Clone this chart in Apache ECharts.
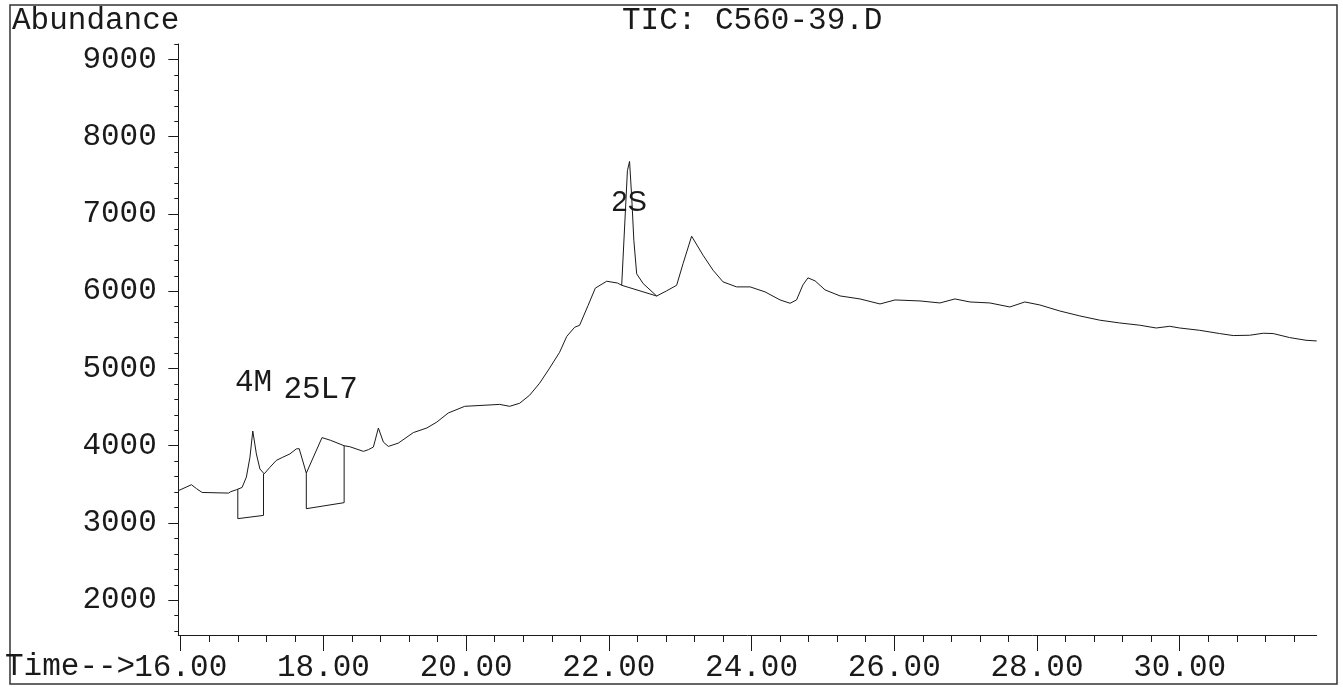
<!DOCTYPE html>
<html>
<head>
<meta charset="utf-8">
<script src="https://cdn.jsdelivr.net/npm/echarts@6/dist/echarts.min.js"></script>
<style>
  html, body { margin: 0; padding: 0; background: #fff; }
  #tic { width: 1343px; height: 687px; }
</style>
</head>
<body>
<div id="tic"></div>
<script>
// retention time (min) and abundance of the TIC trace
var times = [
  15.97, 16.15, 16.22, 16.30, 16.67, 16.70, 16.78, 16.86, 16.92, 16.97,
  17.01, 17.06, 17.11, 17.17, 17.25, 17.34, 17.43, 17.53, 17.62, 17.66,
  17.76, 17.98, 18.10, 18.29, 18.37, 18.56, 18.63, 18.70, 18.77, 18.84,
  18.91, 19.05, 19.26, 19.45, 19.59, 19.75, 19.98, 20.47, 20.61, 20.75,
  20.89, 21.03, 21.17, 21.31, 21.41, 21.52, 21.59, 21.71, 21.81, 21.97,
  22.12, 22.18, 22.26, 22.29, 22.32, 22.35, 22.39, 22.48, 22.67, 22.81,
  22.95, 23.04, 23.16, 23.32, 23.46, 23.60, 23.79, 23.98, 24.19, 24.40,
  24.54, 24.63, 24.72, 24.79, 24.89, 25.03, 25.24, 25.52, 25.80, 26.01,
  26.36, 26.64, 26.85, 27.06, 27.34, 27.62, 27.83, 28.04, 28.32, 28.60,
  28.88, 29.16, 29.44, 29.67, 29.86, 30.00, 30.28, 30.56, 30.75, 30.98,
  31.17, 31.31, 31.54, 31.77, 31.92
];
var abundance = [
  3420, 3495, 3445, 3395, 3387, 3405, 3430, 3460, 3594, 3850,
  4190, 3894, 3699, 3636, 3721, 3810, 3851, 3894, 3959, 3962,
  3645, 4105, 4070, 4000, 3987, 3927, 3949, 3983, 4229, 4047,
  3991, 4034, 4170, 4230, 4307, 4424, 4510, 4535, 4510, 4550,
  4654, 4810, 5005, 5210, 5415, 5533, 5559, 5818, 6040, 6129,
  6106, 6077, 7560, 7680, 7221, 6660, 6225, 6100, 5938, 6005,
  6077, 6358, 6712, 6466, 6272, 6121, 6056, 6056, 5991, 5887,
  5844, 5887, 6082, 6173, 6134, 6017, 5939, 5900, 5835, 5887,
  5874, 5848, 5900, 5861, 5848, 5796, 5861, 5822, 5744, 5680,
  5625, 5589, 5560, 5524, 5546, 5524, 5494, 5452, 5426, 5430,
  5456, 5452, 5400, 5365, 5356
];

// integration baselines (null = break between peaks)
var baseTimes  = [16.80, 16.80, 17.16, 17.16, null, 17.76, 17.76, 18.29, 18.29, null, 22.18, 22.67];
var baseValues = [3440, 3056, 3098, 3636, null, 3645, 3185, 3263, 4000, null, 6077, 5938];

// peak names
var peakNames = ["4M", "25L7", "2S"];
var peakTimes = [17.02, 17.96, 22.285];
var peakLabelY = [4812, 4727, 7148];

var xTickLabels = [16, 18, 20, 22, 24, 26, 28, 30];
var yTickLabels = [2000, 3000, 4000, 5000, 6000, 7000, 8000, 9000];

var xMinor = [];
for (var t = 16; t <= 31.7; t += 0.4) {
  var r = Math.round(t * 10) / 10;
  if (xTickLabels.indexOf(r) < 0) xMinor.push(r);
}
var yMinor = [];
for (var v = 1600; v <= 9200; v += 200) {
  if (v % 1000 !== 0) yMinor.push(v);
}

var mono = '"Liberation Mono", "DejaVu Sans Mono", monospace';
var ink = "#1a1a1a";

var chart = echarts.init(document.getElementById("tic"));

function pairs(xs, ys) {
  var out = [];
  for (var i = 0; i < xs.length; i++) {
    out.push(xs[i] === null ? [null, null] : [xs[i], ys[i]]);
  }
  return out;
}

var option = {
  animation: false,
  backgroundColor: "#fff",
  grid: { left: 178.3, right: 26.3, top: 44, bottom: 52 },
  xAxis: [
    {
      type: "value",
      min: 15.966,
      max: 31.92,
      axisLine: { lineStyle: { color: ink, width: 1 } },
      axisTick: { customValues: xTickLabels, length: 16, lineStyle: { color: ink } },
      axisLabel: {
        customValues: xTickLabels,
        margin: 17,
        color: ink,
        fontFamily: mono,
        fontSize: 31,
        formatter: function (val) { return val.toFixed(2); }
      },
      splitLine: { show: false }
    },
    {
      type: "value",
      position: "bottom",
      min: 15.966,
      max: 31.92,
      axisLine: { show: false },
      axisTick: { customValues: xMinor, length: 7, lineStyle: { color: ink } },
      axisLabel: { show: false },
      splitLine: { show: false }
    }
  ],
  yAxis: [
    {
      type: "value",
      min: 1550,
      max: 9200,
      axisLine: { show: true, lineStyle: { color: ink, width: 1 } },
      axisTick: { show: true, customValues: yTickLabels, length: 10, lineStyle: { color: ink } },
      axisLabel: {
        customValues: yTickLabels,
        margin: 21.5,
        color: ink,
        fontFamily: mono,
        fontSize: 31,
        formatter: function (val) { return String(val); }
      },
      splitLine: { show: false }
    },
    {
      type: "value",
      position: "left",
      min: 1550,
      max: 9200,
      axisLine: { show: false },
      axisTick: { show: true, customValues: yMinor, length: 4, lineStyle: { color: ink } },
      axisLabel: { show: false },
      splitLine: { show: false }
    }
  ],
  series: [
    {
      type: "line",
      data: pairs(times, abundance),
      showSymbol: false,
      lineStyle: { color: ink, width: 1 }
    },
    {
      type: "line",
      data: pairs(baseTimes, baseValues),
      showSymbol: false,
      connectNulls: false,
      lineStyle: { color: ink, width: 1 }
    },
    {
      type: "scatter",
      symbolSize: 0,
      itemStyle: { opacity: 1, color: ink },
      data: pairs(peakTimes, peakLabelY),
      label: {
        show: true,
        position: "inside",
        color: ink,
        fontSize: 31,
        fontFamily: mono,
        formatter: function (p) {
          var name = peakNames[p.dataIndex];
          if (name === "2S") {
            return "{s|" + name + "}";
          }
          return name;
        },
        rich: {
          s: { fontFamily: '"Liberation Sans", Arial, sans-serif', fontSize: 29, color: ink }
        }
      }
    }
  ],
  graphic: [
    {
      type: "rect",
      shape: { x: 10, y: 5, width: 1327, height: 679 },
      style: { fill: "none", stroke: "#333", lineWidth: 1.5 },
      silent: true
    },
    {
      type: "text",
      style: { x: 12, y: 21, text: "Abundance", font: "31px " + mono, fill: ink, textVerticalAlign: "middle" }
    },
    {
      type: "text",
      style: { x: 622, y: 21, text: "TIC: C560-39.D", font: "31px " + mono, fill: ink, textVerticalAlign: "middle" }
    },
    {
      type: "text",
      style: { x: 5, y: 667, text: "Time-->", font: "31px " + mono, fill: ink, textVerticalAlign: "middle" }
    }
  ]
};

chart.setOption(option);
</script>
</body>
</html>
